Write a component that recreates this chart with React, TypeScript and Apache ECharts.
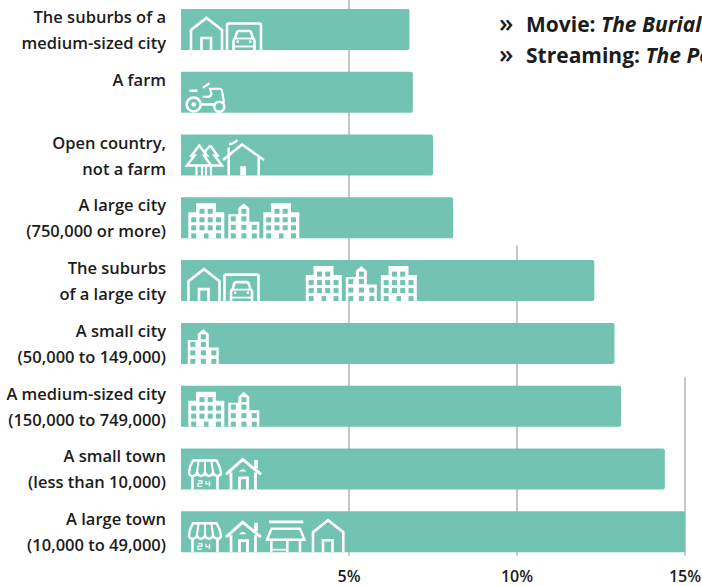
import React, { useEffect, useRef } from "react";
import * as echarts from "echarts";

const categories = [
  "The suburbs of a\nmedium-sized city",
  "A farm\n ",
  "Open country,\nnot a farm",
  "A large city\n(750,000 or more)",
  "The suburbs\nof a large city",
  "A small city\n(50,000 to 149,000)",
  "A medium-sized city\n(150,000 to 749,000)",
  "A small town\n(less than 10,000)",
  "A large town\n(10,000 to 49,000)",
];
const shares = [6.8, 6.9, 7.5, 8.1, 12.3, 12.9, 13.1, 14.4, 15.0];
const tickValues = [5, 10, 15];
const gridStartBands = [-0.47, 3.44, 5.54];
const gridEndBand = 8.38;
const notes = [
  { label: "Movie: ", title: "The Burial" },
  { label: "Streaming: ", title: "The Pe" },
];

const TEAL = "#72c3b2";
const INK = "#1c1c1c";
const BAR_H = 41;
const FONT = '"Open Sans", "Noto Sans", sans-serif';

const line = (d: string, w = 2.6) => ({
  type: "path",
  shape: { pathData: d },
  style: { fill: "none", stroke: "#fff", lineWidth: w, lineJoin: "miter", lineCap: "butt" },
});
const solid = (d: string) => ({ type: "path", shape: { pathData: d }, style: { fill: "#fff", stroke: "none" } });
const hole = (x: number, y: number, w = 5, h = 5) => ({
  type: "rect",
  shape: { x, y, width: w, height: h },
  style: { fill: TEAL },
});

const iconLib: Record<string, () => any[]> = {
  house: () => [
    line("M10,0 V-20 L25.5,-32 L41,-20 V0"),
    line("M20.5,0 V-12 H30 V0"),
  ],
  garage: () => [
    line("M46,0 V-25 Q46,-26.5 47.5,-26.5 H78.5 Q80,-26.5 80,-25 V0"),
    line("M52.5,0 V-9 Q52.5,-11 54,-11.5 L56,-18 Q56.5,-19 58,-19 H68 Q69.5,-19 70,-18 L72,-11.5 Q73.5,-11 73.5,-9 V0"),
    line("M54,-11.5 H72", 1.8),
    line("M52.5,-3.5 H73.5", 1.8),
    solid("M55.5,-9.5 h2.4 v2.2 h-2.4 Z M68.1,-9.5 h2.4 v2.2 h-2.4 Z"),
  ],
  tractor: () => [
    line("M19.7,-8.3 A7,7 0 1 1 5.7,-8.3 A7,7 0 1 1 19.7,-8.3 Z"),
    solid("M15,-8.3 A2.3,2.3 0 1 1 10.4,-8.3 A2.3,2.3 0 1 1 15,-8.3 Z"),
    line("M43.3,-6 A5,5 0 1 1 33.3,-6 A5,5 0 1 1 43.3,-6 Z"),
    line("M8.5,-22 H16.5"),
    line("M21.5,-16 H27 Q30,-16 30.5,-19 L29,-24 H39 Q40.5,-24 41,-22 L43,-10", 2.2),
    line("M20,-8.3 H33.5"),
    line("M22,-25 L28.5,-29.5", 2.2),
  ],
  trees: () => [
    line("M18.3,-30 L10.5,-20 H13.5 L6,-10 H30 L23,-20 H26 Z", 2.5),
    line("M29.3,-30 L24,-24 M29.3,-30 L36.5,-20 H33.5 L41,-10 H30", 2.5),
    line("M15.5,-10 V0 M21,-10 V0 M25,-10 V0 M30,-10 V0", 2.2),
  ],
  cabin: () => [
    line("M42,-15.5 L61,-31 L83,-15.5"),
    line("M47.7,-19 V0 M77.7,-19 V0"),
    line("M47.7,-18 V-28", 2.4),
    line("M48,-31.5 Q52,-31.5 56.5,-35.5", 2.4),
    solid("M59.3,-9.3 H65 V0 H59.3 Z"),
  ],
  cityA: () => [
    solid("M7.3,0 V-26 H15 V-35 H35 V-26 H43.3 V0 Z"),
    ...[[18.5, -29.5], [26.7, -29.5], [10.2, -21], [18.5, -21], [26.7, -21], [35, -21], [10.2, -13], [18.5, -13], [26.7, -13], [35, -13], [10.2, -5]].map(([x, y]) => hole(x, y)),
    hole(35, -5),
    hole(23, -5, 4.5, 5),
  ],
  cityB: () => [
    solid("M47.3,0 V-24 H57.3 V-30 L62.8,-35 L68.3,-30 V-16.5 H78.3 V0 Z"),
    ...[[60.4, -29.5], [49.8, -22], [60.4, -22], [49.8, -13.5], [60.4, -13.5], [70.8, -13.5], [49.8, -5], [60.4, -5], [70.8, -5]].map(([x, y]) => hole(x, y)),
  ],
  store: () => [
    line("M12,-29 H35.5 Q39,-23 40,-17 Q40,-13.5 36.5,-13.5 Q33,-13.5 32,-17 Q31,-13.5 28,-13.5 Q25,-13.5 24,-17 Q23,-13.5 20,-13.5 Q17,-13.5 16,-17 Q15,-13.5 12,-13.5 Q8,-13.5 8,-17 Q8.5,-23 12,-29 Z", 2.4),
    line("M17.5,-28 L16,-17 M24,-28 V-17 M30.5,-28 L32,-17", 2),
    line("M11.5,-13.5 V0 M36.5,-13.5 V0"),
    line("M17,-8.5 H21 V-6 H17 V-3 H21 M25,-8.5 V-5.5 H29.5 M28.5,-8.5 V-3", 1.2),
  ],
  home: () => [
    line("M45,-15 L61.7,-30 L80,-15", 3),
    line("M50,-17 V0 M74.5,-17 V0", 2.8),
    line("M75,-21 V-29.5", 3.8),
    line("M58.5,0 V-11.5 H66.5 V0", 2.8),
    solid("M58,-18 Q61.7,-22.5 65.5,-18 Z"),
  ],
  shop: () => [
    line("M88,-30.3 H122.3", 2.8),
    line("M86,-12.5 L90.5,-23.5 H119 L123.5,-12.5 Z", 2.4),
    line("M90.3,-12 V0 M119,-12 V0 M106.3,-12 V0"),
    line("M90.3,-2.5 H106.3", 1.8),
  ],
  house2: () => [
    line("M132,0 V-20 L147,-32 L162.3,-20 V0"),
    line("M142,0 V-12 H151.5 V0"),
  ],
};

const iconsPerBar: [string, number][][] = [
  [["house", 0], ["garage", 0]],
  [["tractor", 0]],
  [["trees", 0], ["cabin", 0]],
  [["cityA", 0], ["cityB", 0], ["cityA", 75]],
  [["house", -2.5], ["garage", -2.5], ["cityA", 117.5], ["cityB", 117.5], ["cityA", 192.5]],
  [["cityB", -40.5]],
  [["cityA", 0], ["cityB", 0]],
  [["store", 0], ["home", 0]],
  [["store", 0], ["home", 0], ["shop", 0], ["house2", 0]],
];

export default function App() {
  const ref = useRef<HTMLDivElement>(null);
  useEffect(() => {
    const chart = echarts.init(ref.current!, null, { renderer: "svg" });
    chart.setOption({
      animation: false,
      grid: { left: 181, top: -1.9, width: 504, height: 565, containLabel: false, outerBoundsMode: "none" },
      xAxis: {
        type: "value",
        min: 0,
        max: 15,
        interval: 5,
        splitLine: { show: false },
        axisLine: { show: false },
        axisTick: { show: false },
        axisLabel: {
          margin: 5,
          color: INK,
          fontFamily: FONT,
          fontSize: 16,
          lineHeight: 16,
          fontWeight: 600,
          hideOverlap: false,
          formatter: (v: number) => (v === 0 ? "" : `${v}%`),
        },
      },
      yAxis: {
        type: "category",
        inverse: true,
        data: categories,
        axisLine: { show: false },
        axisTick: { show: false },
        axisLabel: {
          interval: 0,
          margin: 15,
          align: "right",
          color: INK,
          fontFamily: FONT,
          fontSize: 16.5,
          fontWeight: 600,
          lineHeight: 26,
        },
      },
      series: [
        {
          type: "custom",
          z: 1,
          silent: true,
          data: tickValues.map((v) => [v, 0]),
          encode: { x: 0, y: 1 },
          renderItem: (params: any, api: any) => {
            const i = params.dataIndex;
            const p = api.coord([tickValues[i], 0]);
            const band = api.size([0, 1])[1];
            return {
              type: "line",
              shape: { x1: p[0], x2: p[0], y1: p[1] + band * gridStartBands[i], y2: p[1] + band * gridEndBand },
              style: { stroke: "#c6c6c6", lineWidth: 2 },
            };
          },
        },
        {
          type: "bar",
          z: 2,
          data: shares,
          barWidth: BAR_H,
          itemStyle: { color: TEAL, borderRadius: [0, 2, 2, 0] },
        },
        {
          type: "custom",
          z: 3,
          silent: true,
          data: categories.map((_, i) => [0, i]),
          encode: { x: 0, y: 1 },
          renderItem: (params: any, api: any) => {
            const p = api.coord([0, params.dataIndex]);
            return {
              type: "group",
              x: p[0],
              y: p[1] + BAR_H / 2,
              children: iconsPerBar[params.dataIndex].map(([name, dx]) => ({
                type: "group",
                x: dx,
                y: 0,
                children: iconLib[name](),
              })),
            };
          },
        },
      ],
      graphic: notes.flatMap((n, i) => [
        {
          type: "text",
          x: 499,
          y: 22 + i * 31,
          style: {
            text: "{c|»}",
            verticalAlign: "middle",
            rich: { c: { fill: INK, fontFamily: FONT, fontSize: 26, fontWeight: 600, lineHeight: 22 } },
          },
        },
        {
          type: "text",
          x: 526,
          y: 24 + i * 31,
          style: {
            text: `{b|${n.label}}{i|${n.title}}`,
            verticalAlign: "middle",
            rich: {
              b: { fill: INK, fontFamily: FONT, fontSize: 21, fontWeight: 700 },
              i: { fill: INK, fontFamily: FONT, fontSize: 21, fontWeight: 700, fontStyle: "italic" },
            },
          },
        },
      ]),
    });
    return () => chart.dispose();
  }, []);
  return (
    <div
      ref={ref}
      style={{ position: "absolute", left: 0, top: 0, width: 702, height: 586, background: "#fff" }}
    />
  );
}
